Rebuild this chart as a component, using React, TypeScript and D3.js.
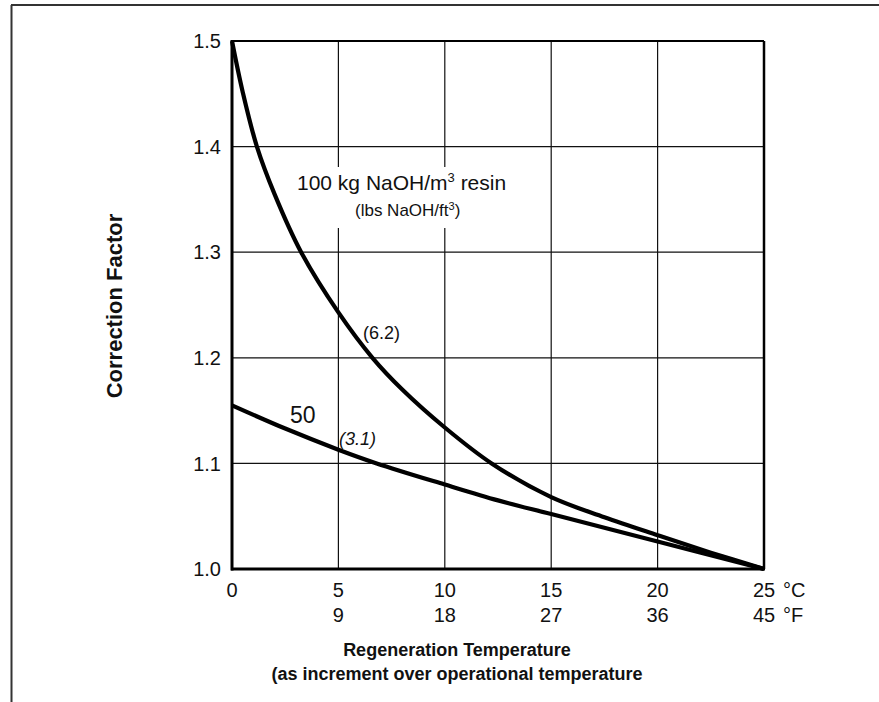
import React from "react";
import * as d3 from "d3";

const celsiusTicks = [0, 5, 10, 15, 20, 25];
const fahrenheitLabels = ["", "9", "18", "27", "36", "45"];
const yTicks = [1.0, 1.1, 1.2, 1.3, 1.4, 1.5];

const curve100X = [0, 0.5, 1.17, 2, 3.25, 5, 6.6, 8, 10, 12.2, 15, 17.5, 20, 22.5, 25];
const curve100Y = [1.5, 1.452, 1.4, 1.355, 1.3, 1.243, 1.2, 1.17, 1.134, 1.1, 1.068, 1.049, 1.032, 1.0155, 1.0];

const curve50X = [0, 2.5, 5, 6.8, 10, 12.5, 15, 20, 25];
const curve50Y = [1.155, 1.133, 1.113, 1.1, 1.08, 1.065, 1.052, 1.026, 1.0];

const W = 879;
const H = 702;
const FONT = "'Liberation Sans', Arial, sans-serif";

export default function App() {
  const x = d3.scaleLinear().domain([0, 25]).range([232, 764]);
  const y = d3.scaleLinear().domain([1.0, 1.5]).range([569, 41]);
  const line = d3
    .line<[number, number]>()
    .x((d) => x(d[0]))
    .y((d) => y(d[1]))
    .curve(d3.curveCatmullRom.alpha(0.5));
  const d100 = line(curve100X.map((v, i) => [v, curve100Y[i]] as [number, number])) || "";
  const d50 = line(curve50X.map((v, i) => [v, curve50Y[i]] as [number, number])) || "";

  return (
    <svg
      width={W}
      height={H}
      style={{ position: "absolute", left: 0, top: 0, background: "#fff" }}
      fontFamily={FONT}
    >
      <rect x={0} y={0} width={W} height={H} fill="#fff" />
      {/* frame */}
      <line x1={11} y1={5} x2={W} y2={5} stroke="#333" strokeWidth={2} />
      <line x1={11.5} y1={5} x2={11.5} y2={H} stroke="#333" strokeWidth={2} />

      {/* grid */}
      {celsiusTicks.slice(1, -1).map((t) => (
        <line key={"gx" + t} x1={x(t)} x2={x(t)} y1={y(1.5)} y2={y(1.0)} stroke="#111" strokeWidth={1.2} />
      ))}
      {yTicks.slice(1, -1).map((t) => (
        <line key={"gy" + t} x1={x(0)} x2={x(25)} y1={y(t)} y2={y(t)} stroke="#111" strokeWidth={1.2} />
      ))}
      {/* white backing behind main label */}
      <rect x={294} y={167} width={214} height={61} fill="#fff" />
      {/* frame of plot */}
      <line x1={x(0)} x2={x(25)} y1={y(1.5)} y2={y(1.5)} stroke="#000" strokeWidth={2} />
      <line x1={x(25)} x2={x(25)} y1={y(1.5)} y2={y(1.0)} stroke="#000" strokeWidth={2.5} />
      <line x1={x(0)} x2={x(0)} y1={y(1.5) - 1} y2={y(1.0) + 1.5} stroke="#000" strokeWidth={3} />
      <line x1={x(0) - 1} x2={x(25) + 1} y1={y(1.0)} y2={y(1.0)} stroke="#000" strokeWidth={3} />

      {/* curves */}
      <path d={d100} fill="none" stroke="#000" strokeWidth={4.2} />
      <path d={d50} fill="none" stroke="#000" strokeWidth={4.2} />

      {/* y tick labels */}
      {yTicks.map((t) => (
        <text key={"yl" + t} x={221} y={y(t)} dy="0.36em" textAnchor="end" fontSize={20} fill="#111">
          {t.toFixed(1)}
        </text>
      ))}
      {/* x tick labels */}
      {celsiusTicks.map((t) => (
        <text key={"xl" + t} x={x(t)} y={597} textAnchor="middle" fontSize={20} fill="#111">
          {t}
        </text>
      ))}
      {celsiusTicks.map((t, i) => (
        <text key={"xf" + t} x={x(t)} y={622} textAnchor="middle" fontSize={20} fill="#111">
          {fahrenheitLabels[i]}
        </text>
      ))}
      <text x={783} y={597} fontSize={20} fill="#111">°C</text>
      <text x={783} y={622} fontSize={20} fill="#111">°F</text>

      {/* annotations */}
      <text x={297} y={190} fontSize={21} fill="#111">
        100 kg NaOH/m
        <tspan fontSize={13} dy={-8}>3</tspan>
        <tspan dy={8}> resin</tspan>
      </text>
      <text x={355} y={216} fontSize={17} fill="#111">
        (lbs NaOH/ft
        <tspan fontSize={11} dy={-6}>3</tspan>
        <tspan dy={6}>)</tspan>
      </text>
      <text x={363} y={339} fontSize={18} fill="#111">(6.2)</text>
      <text x={290} y={423} fontSize={23} fill="#111">50</text>
      <text x={339} y={445} fontSize={18} fontStyle="italic" fill="#111">(3.1)</text>

      {/* axis titles */}
      <text x={457} y={656} textAnchor="middle" fontSize={18} fontWeight="bold" fill="#111">
        Regeneration Temperature
      </text>
      <text x={457} y={680} textAnchor="middle" fontSize={18} fontWeight="bold" fill="#111">
        (as increment over operational temperature
      </text>
      <text
        transform={`translate(122, 306) rotate(-90)`}
        textAnchor="middle"
        fontSize={22}
        fontWeight="bold"
        fill="#111"
      >
        Correction Factor
      </text>
    </svg>
  );
}
